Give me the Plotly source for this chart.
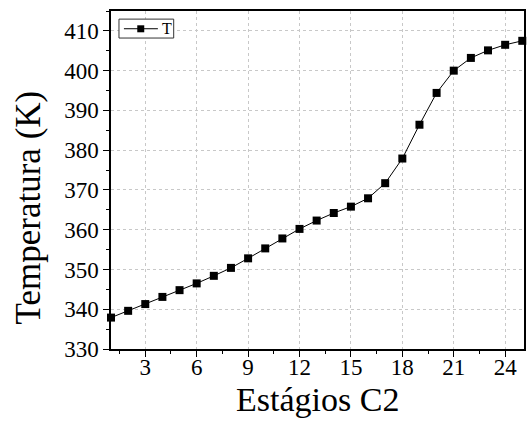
import plotly.graph_objects as go

stages = list(range(1, 26))
temperature = [337.9, 339.6, 341.3, 343.1, 344.8, 346.5, 348.4, 350.4, 352.8, 355.3,
               357.8, 360.2, 362.3, 364.2, 365.8, 367.9, 371.7, 377.9, 386.4, 394.4,
               400.0, 403.2, 405.1, 406.5, 407.5]
x_ticks = [3, 6, 9, 12, 15, 18, 21, 24]
y_ticks = [330, 340, 350, 360, 370, 380, 390, 400, 410]
series_name = "T"

font = "Liberation Serif"

fig = go.Figure()
fig.add_trace(go.Scatter(
    x=stages, y=temperature, mode="lines+markers", name=series_name,
    line=dict(color="black", width=1),
    marker=dict(symbol="square", size=8, color="black"),
    cliponaxis=False, showlegend=False,
))

axis_common = dict(
    showline=True, linecolor="black", linewidth=1.5, mirror=True,
    ticks="outside", ticklen=6, tickwidth=1.2, tickcolor="black",
    showgrid=True, gridcolor="#c8c8c8", griddash="dot", gridwidth=1,
    zeroline=False,
    tickfont=dict(family=font, size=23, color="black"),
)

fig.update_xaxes(
    **axis_common,
    range=[1, 25.1], tickvals=x_ticks, ticklabelstandoff=-9,
    minor=dict(ticks="outside", ticklen=3, tickcolor="black", dtick=1.5, tick0=1.5, showgrid=False),
)
fig.update_yaxes(
    **axis_common,
    range=[330, 415], tickvals=y_ticks,
    minor=dict(ticks="outside", ticklen=3, tickcolor="black", dtick=5, tick0=335, showgrid=False),
)

# x-axis title
fig.add_annotation(
    text="Estágios C2", xref="paper", yref="paper",
    x=0.5, y=-0.2115, xanchor="center", yanchor="bottom", showarrow=False,
    font=dict(family=font, size=34, color="black"),
)
# y-axis title (placed slightly below centre as in the reference)
fig.add_annotation(
    text="Temperatura (K)", textangle=-90, xref="paper", yref="paper",
    x=-0.2, y=0.42, xanchor="center", yanchor="middle", showarrow=False,
    font=dict(family=font, size=35, color="black"),
)

# legend box drawn manually (compact, Origin-style)
fig.add_shape(type="rect", xref="paper", yref="paper",
              x0=0.0193, x1=0.1518, y0=0.920, y1=0.976,
              line=dict(color="#333333", width=1), fillcolor="white", layer="above")
fig.add_shape(type="line", xref="paper", yref="paper",
              x0=0.0313, x1=0.1135, y0=0.9475, y1=0.9475,
              line=dict(color="black", width=1), layer="above")
fig.add_shape(type="rect", xref="paper", yref="paper",
              x0=0.0636, x1=0.0805, y0=0.9370, y1=0.9577,
              line=dict(color="black", width=0), fillcolor="black", layer="above")
fig.add_annotation(
    text=series_name, xref="paper", yref="paper", x=0.118, y=0.9475,
    xanchor="left", yanchor="middle", showarrow=False,
    font=dict(family=font, size=16, color="black"),
)

fig.update_layout(
    width=527, height=421,
    margin=dict(l=111, r=1, t=11, b=72),
    paper_bgcolor="white", plot_bgcolor="white",
    font=dict(family=font),
    showlegend=False,
)

fig.write_html("out.html")
